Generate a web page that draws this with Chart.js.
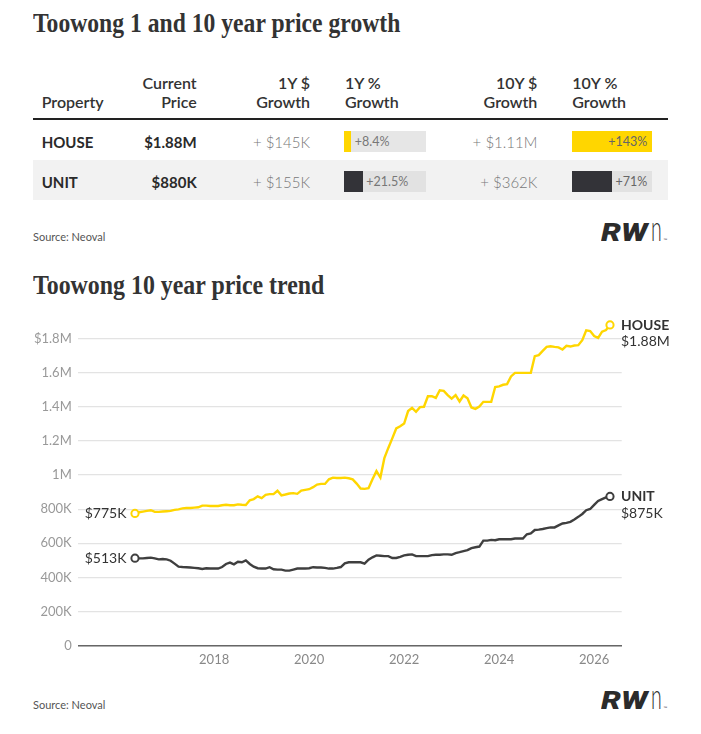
<!DOCTYPE html>
<html><head><meta charset="utf-8">
<script src="https://cdn.jsdelivr.net/npm/chart.js@4.4.1/dist/chart.umd.min.js"></script>
<style>
html,body{margin:0;padding:0;background:#fff;}
body{width:701px;height:734px;position:relative;overflow:hidden;font-family:Lato,"Noto Sans",sans-serif;color:#333;}
.abs{position:absolute;white-space:nowrap;}
.title{font-family:"Liberation Serif",serif;font-weight:700;font-size:28px;line-height:28px;color:#333;transform-origin:0 0;display:inline-block;}
.hdr{font-size:16px;line-height:18.4px;font-weight:600;color:#333;}
.cell{font-size:15px;line-height:20px;}
.src{font-size:11px;line-height:14px;color:#555;}
.rw{font-family:Roboto,sans-serif;font-weight:900;font-style:italic;font-size:25px;line-height:25px;color:#2b2b2b;transform-origin:0 0;transform:scaleX(1.26);}
.nn{font-family:Lato,sans-serif;font-weight:300;font-size:26px;line-height:26px;color:#2b2b2b;transform-origin:0 23.06px;transform:scale(0.75,1.38);}
.tm{font-family:Lato,sans-serif;font-size:5px;line-height:5px;color:#555;}
#chartBox{position:absolute;left:0;top:290px;width:701px;height:400px;}
</style>
</head>
<body>
<div class="abs title" id="t1" style="left:32.7px;top:8.9px;" data-w="367.3">Toowong 1 and 10 year price growth</div>
<div class="abs title" id="t2" style="left:32.7px;top:270.9px;" data-w="291.3">Toowong 10 year price trend</div>
<div id="table"></div>
<div class="abs src" style="left:33px;top:230px;">Source: Neoval</div>
<div class="abs src" style="left:33px;top:698px;">Source: Neoval</div>
<div id="logos"></div>
<div id="chartBox"><canvas id="c" width="701" height="400"></canvas></div>
<script>
// ---------- table data ----------
const properties = ["HOUSE", "UNIT"];
const currentPrice = ["$1.88M", "$880K"];
const growth1YDollar = ["+ $145K", "+ $155K"];
const growth1YPct = [8.4, 21.5];
const growth10YDollar = ["+ $1.11M", "+ $362K"];
const growth10YPct = [143, 71];
const headers = ["Property", "Current<br>Price", "1Y $<br>Growth", "1Y %<br>Growth", "10Y $<br>Growth", "10Y %<br>Growth"];

// ---------- chart data (monthly, from May 2016) ----------
const seriesNames = ["HOUSE", "UNIT"];
const startYear = 2016, startMonth = 5;
const houseValues = [
 775,782,786,790,794,784,784,786,788,790,
 796,799,805,807,807,809,811,821,821,819,
 819,819,823,826,823,823,828,826,825,852,
 859,875,865,884,888,888,908,881,886,892,
 894,890,909,913,917,929,944,948,948,975,
 985,983,983,985,981,975,950,921,919,923,
 975,1023,985,1099,1159,1215,1273,1286,1302,1375,
 1394,1371,1398,1400,1462,1462,1452,1497,1493,1469,
 1448,1469,1431,1466,1450,1396,1388,1402,1429,1429,
 1429,1516,1520,1529,1533,1578,1599,1599,1599,1599,
 1599,1697,1703,1728,1751,1755,1751,1748,1736,1757,
 1753,1759,1761,1790,1848,1844,1815,1804,1840,1850,
 1880];
const unitValues = [
 513,512,512,514,516,512,506,508,506,498,
 481,463,461,460,458,456,454,450,454,452,
 452,452,461,479,487,477,492,489,500,479,
 463,454,452,452,460,448,446,446,440,440,
 446,452,452,452,454,460,458,458,456,452,
 452,456,461,483,489,489,489,489,481,504,
 518,529,527,525,525,514,514,521,529,533,
 535,525,525,525,525,531,533,533,535,535,
 533,543,548,554,560,572,577,581,616,616,
 620,618,624,624,624,624,628,628,628,653,
 658,678,680,684,689,693,693,705,716,720,
 726,740,755,772,794,801,825,848,859,869,
 875];
const xTickYears = [2018, 2020, 2022, 2024, 2026];
const yTickValues = [0, 200000, 400000, 600000, 800000, 1000000, 1200000, 1400000, 1600000, 1800000];

// ---------- styles ----------
const houseColor = "#FFD600";
const unitColor = "#3f3f3f";
const barColors = [houseColor, "#333338"];

// ---------- build table ----------
(function(){
  const T = document.getElementById('table');
  function add(html, cls, style){
    const d = document.createElement('div');
    d.className = 'abs ' + cls; d.innerHTML = html; d.style.cssText = style;
    T.appendChild(d); return d;
  }
  const L = 32.7, R = 668.3;
  const hTop = 74.1;
  add(headers[0], 'hdr', `left:41.7px;top:${hTop+18.4}px;`);
  add(headers[1], 'hdr', `right:${701-196.7}px;top:${hTop}px;text-align:right;`);
  add(headers[2], 'hdr', `right:${701-310}px;top:${hTop}px;text-align:right;`);
  add(headers[3], 'hdr', `left:345px;top:${hTop}px;`);
  add(headers[4], 'hdr', `right:${701-537.3}px;top:${hTop}px;text-align:right;`);
  add(headers[5], 'hdr', `left:572.3px;top:${hTop}px;`);
  add('', '', `left:${L}px;width:${R-L}px;top:117.8px;height:2.6px;background:#222;`);
  const max10 = Math.max(...growth10YPct);
  properties.forEach((p, i) => {
    const rowTop = 120.4 + 40*i, c = 141.7 + 40*i;
    if (i % 2 === 1) add('', '', `left:${L}px;width:${R-L}px;top:${rowTop}px;height:${200-rowTop}px;background:#f2f2f2;`);
    else add('', '', `left:${L}px;width:${R-L}px;top:${rowTop+39.2}px;height:1px;background:#ececec;`);
    add(p, 'cell', `left:41.7px;top:${c-10}px;font-weight:700;color:#2a2a2a;`);
    add(currentPrice[i], 'cell', `right:${701-196.7}px;top:${c-10}px;font-weight:700;color:#2a2a2a;`);
    add(growth1YDollar[i], 'cell', `right:${701-310}px;top:${c-10}px;font-weight:300;color:#777;`);
    add(growth10YDollar[i], 'cell', `right:${701-537.3}px;top:${c-10}px;font-weight:300;color:#777;`);
    const bgCol = i % 2 === 1 ? '#e2e2e2' : '#e6e6e6';
    const b1L = 344, b1W = 81.5;
    const f1 = growth1YPct[i] * 0.87;
    add('', '', `left:${b1L}px;width:${b1W}px;top:${c-11}px;height:21px;background:${bgCol};`);
    add('', '', `left:${b1L}px;width:${f1}px;top:${c-11}px;height:21px;background:${barColors[i]};`);
    add('+' + growth1YPct[i] + '%', '', `left:${b1L+f1+3.5}px;top:${c-8}px;font-size:12.5px;line-height:16px;color:#777;`);
    const b2L = 572.3, b2W = 79.4;
    const f2 = growth10YPct[i] / max10 * b2W;
    add('', '', `left:${b2L}px;width:${b2W}px;top:${c-11}px;height:21px;background:${bgCol};`);
    add('', '', `left:${b2L}px;width:${f2}px;top:${c-11}px;height:21px;background:${barColors[i]};`);
    if (f2 > b2W - 40) add('+' + growth10YPct[i] + '%', '', `right:${701-(b2L+b2W-4.4)}px;top:${c-8}px;font-size:12.5px;line-height:16px;color:#666;`);
    else add('+' + growth10YPct[i] + '%', '', `left:${b2L+f2+4}px;top:${c-8}px;font-size:12.5px;line-height:16px;color:#777;`);
  });
  const G = document.getElementById('logos');
  [240.7, 708.7].forEach(base => {
    const a = document.createElement('div'); a.className = 'abs rw'; a.textContent = 'RW';
    a.style.left = '601px'; a.style.top = (base - 21.05) + 'px'; G.appendChild(a);
    const n = document.createElement('div'); n.className = 'abs nn'; n.textContent = 'n';
    n.style.left = '650.5px'; n.style.top = (base - 23.06) + 'px'; G.appendChild(n);
    const t = document.createElement('div'); t.className = 'abs tm'; t.textContent = '™';
    t.style.left = '663.5px'; t.style.top = (base - 3) + 'px'; G.appendChild(t);
  });
  document.querySelectorAll('.title').forEach(el => {
    const w = el.getBoundingClientRect().width;
    el.style.transform = `scaleX(${parseFloat(el.dataset.w) / w})`;
  });
})();

// ---------- chart ----------
function fmtMoney(v){
  return v >= 1e6 ? '$' + (v/1e6).toFixed(2) + 'M' : '$' + Math.round(v/1000) + 'K';
}
function toPoints(arr){
  return arr.map((v, i) => ({x: startYear + (startMonth - 1 + i)/12, y: v*1000}));
}
const seriesValues = [houseValues, unitValues];
const endLabelPlugin = {
  id: 'endLabels',
  afterDatasetsDraw(chart){
    const ctx = chart.ctx;
    chart.data.datasets.forEach((ds, di) => {
      const meta = chart.getDatasetMeta(di);
      const first = meta.data[0], last = meta.data[meta.data.length - 1];
      const vals = seriesValues[di];
      ctx.save();
      ctx.fillStyle = '#333';
      ctx.textBaseline = 'middle';
      ctx.font = '14px Lato';
      ctx.textAlign = 'right';
      ctx.fillText(fmtMoney(vals[0]*1000), first.x - 8.5, first.y + 0.5);
      ctx.textAlign = 'left';
      ctx.font = 'bold 14px Lato';
      ctx.fillText(seriesNames[di], last.x + 11, last.y + 0.5);
      ctx.font = '14px Lato';
      ctx.fillText(fmtMoney(vals[vals.length-1]*1000), last.x + 11, last.y + 17);
      ctx.restore();
    });
  }
};
const colors = [houseColor, unitColor];
new Chart(document.getElementById('c'), {
  type: 'line',
  data: {
    datasets: seriesValues.map((vals, di) => ({
      label: seriesNames[di],
      data: toPoints(vals),
      borderColor: colors[di],
      borderWidth: 2.4,
      tension: 0,
      pointRadius: ctx => (ctx.dataIndex === 0 || ctx.dataIndex === vals.length - 1) ? 3.6 : 0,
      pointBorderWidth: 2,
      pointBorderColor: colors[di],
      pointBackgroundColor: '#fff',
      pointHoverRadius: 0,
      clip: false
    }))
  },
  options: {
    responsive: false,
    animation: false,
    events: [],
    layout: {padding: {left: 0, right: 79.3, top: 10.5, bottom: 0}},
    plugins: {legend: {display: false}, tooltip: {enabled: false}},
    scales: {
      x: {
        type: 'linear', min: 2015.14, max: 2026.58,
        afterBuildTicks: s => { s.ticks = xTickYears.map(v => ({value: v})); },
        afterFit: s => { s.height = 44.3; },
        grid: {display: true, drawOnChartArea: false, drawTicks: false},
        border: {display: true, color: '#666', width: 1.4},
        ticks: {color: '#888', font: {family: 'Lato', size: 13}, padding: 6.5, maxRotation: 0,
                callback: v => String(v)}
      },
      y: {
        min: 0, max: 2000000,
        afterBuildTicks: s => { s.ticks = yTickValues.map(v => ({value: v})); },
        afterFit: s => { s.width = 78.3; },
        grid: {color: '#e3e3e3', lineWidth: 1.2, drawTicks: false},
        border: {display: false},
        ticks: {color: '#999', font: {family: 'Lato', size: 13}, padding: 6.6,
                callback: (v, i, ticks) => {
                  let s;
                  if (v === 0) s = '0';
                  else if (v >= 1e6) s = (v/1e6) + 'M';
                  else s = (v/1000) + 'K';
                  return (i === ticks.length - 1 ? '$' : '') + s;
                }}
      }
    }
  },
  plugins: [endLabelPlugin]
});
</script>
</body></html>
